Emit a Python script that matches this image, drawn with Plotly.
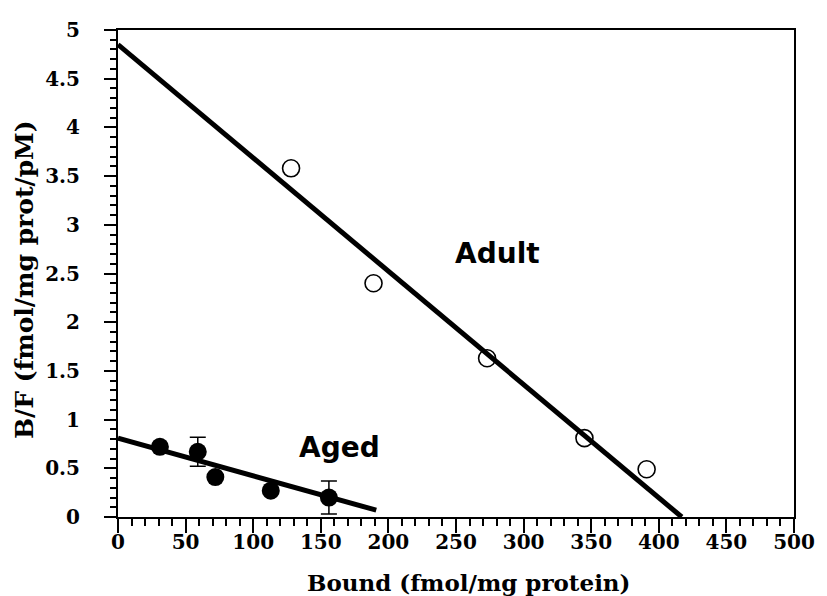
import plotly.graph_objects as go

# Data
adult_x = [128, 189, 273, 345, 391]
adult_y = [3.58, 2.40, 1.63, 0.81, 0.49]

aged_x = [31, 59, 72, 113, 156]
aged_y = [0.72, 0.67, 0.41, 0.27, 0.20]
aged_err = [0.0, 0.15, 0.0, 0.0, 0.17]

adult_fit_x = [0, 417]
adult_fit_y = [4.85, 0.0]
aged_fit_x = [0, 191]
aged_fit_y = [0.81, 0.07]

x_ticks = [0, 50, 100, 150, 200, 250, 300, 350, 400, 450, 500]
y_ticks = [0, 0.5, 1, 1.5, 2, 2.5, 3, 3.5, 4, 4.5, 5]
y_tick_text = ["0", "0.5", "1", "1.5", "2", "2.5", "3", "3.5", "4", "4.5", "5"]

serif = "DejaVu Serif"
sans = "DejaVu Sans"

fig = go.Figure()
fig.add_trace(go.Scatter(x=adult_fit_x, y=adult_fit_y, mode="lines",
                         line=dict(color="black", width=5), showlegend=False,
                         cliponaxis=False))
fig.add_trace(go.Scatter(x=aged_fit_x, y=aged_fit_y, mode="lines",
                         line=dict(color="black", width=5), showlegend=False,
                         cliponaxis=False))
fig.add_trace(go.Scatter(x=adult_x, y=adult_y, mode="markers",
                         marker=dict(symbol="circle-open", size=17, color="black",
                                     line=dict(width=1.6, color="black")),
                         showlegend=False))
fig.add_trace(go.Scatter(x=aged_x, y=aged_y, mode="markers",
                         marker=dict(symbol="circle", size=18, color="black"),
                         error_y=dict(type="data", array=aged_err, color="black",
                                      thickness=1.5, width=8),
                         showlegend=False))

fig.add_annotation(x=281, y=2.71, text="<b>Adult</b>", showarrow=False,
                   font=dict(family=sans, size=28, color="black"))
fig.add_annotation(x=164, y=0.71, text="<b>Aged</b>", showarrow=False,
                   font=dict(family=sans, size=28, color="black"))

fig.add_annotation(x=0.518, y=-0.134, xref="paper", yref="paper",
                   xanchor="center", yanchor="middle",
                   text="<b>Bound (fmol/mg protein)</b>", showarrow=False,
                   font=dict(family=serif, size=23, color="black"))
fig.add_annotation(x=-0.138, y=0.488, xref="paper", yref="paper",
                   xanchor="center", yanchor="middle", textangle=-90,
                   text="<b>B/F (fmol/mg prot/pM)</b>", showarrow=False,
                   font=dict(family=serif, size=25, color="black"))

fig.update_xaxes(range=[0, 500], tickvals=x_ticks, ticks="outside", ticklen=14,
                 ticklabelstandoff=-8,
                 tickwidth=2, tickcolor="black", showline=True, linecolor="black",
                 linewidth=2, mirror=True, showgrid=False, zeroline=False,
                 tickfont=dict(family=serif, size=20, color="black", weight="bold"),
                 minor=dict(dtick=10, ticks="outside", ticklen=7, tickwidth=2,
                            tickcolor="black", showgrid=False))
fig.update_yaxes(range=[0, 5], tickvals=y_ticks, ticktext=y_tick_text,
                 ticks="outside", ticklen=12, ticklabelstandoff=20,
                 tickwidth=2, tickcolor="black", showline=True, linecolor="black",
                 linewidth=2, mirror=True, showgrid=False, zeroline=False,
                 tickfont=dict(family=serif, size=20, color="black", weight="bold"),
                 minor=dict(dtick=0.1, ticks="outside", ticklen=6, tickwidth=2,
                            tickcolor="black", showgrid=False))

fig.update_layout(width=827, height=596, margin=dict(l=118, r=27, t=30, b=79),
                  plot_bgcolor="white", paper_bgcolor="white")

# remove the default 8px page margin so the figure fills the window exactly
fig.write_html("out.html", config={"displayModeBar": False},
               post_script="document.body.style.margin='0';document.body.style.overflow='hidden';")
